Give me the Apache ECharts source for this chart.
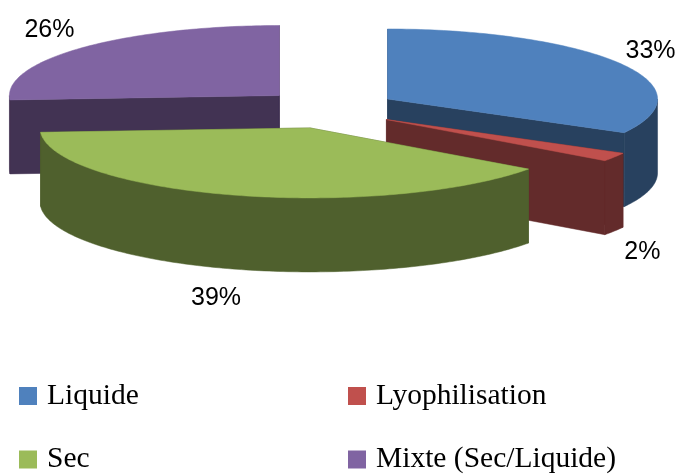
<!DOCTYPE html>
<html>
<head>
<meta charset="utf-8">
<style>html,body{margin:0;padding:0;background:#fff}#c{width:684px;height:475px}</style>
<script src="https://cdn.jsdelivr.net/npm/echarts@6/dist/echarts.min.js"></script>
</head>
<body>
<div id="c"></div>
<script>
// Data
const categories = ['Liquide', 'Lyophilisation', 'Sec', 'Mixte (Sec/Liquide)'];
const values = [33, 2, 39, 26];
const labels = ['33%', '2%', '39%', '26%'];

// Style
const topColors = ['#4F81BD', '#C0504D', '#9BBB59', '#8064A2'];
const wallColors = ['#28415F', '#632B2B', '#4F602D', '#423353'];
const drawOrder = [1, 2, 3, 0]; // painter's order per slice

// Layout of the tilted, exploded pie
const cx = 329, cy = 109;
const rx = 270, ry = 70, depth = 74;
const explodeX = 68, explodeY = 19.7;
const labelOffsets = [[263, -48], [256, 133], [-94, 170], [-230, -65]];

const total = values.reduce((a, b) => a + b, 0);
const rad = d => d * Math.PI / 180;

function arcPoints(ax, ay, from, to) {
  const pts = [];
  const n = Math.max(2, Math.ceil(Math.abs(to - from)));
  for (let i = 0; i <= n; i++) {
    const t = rad(from + (to - from) * i / n);
    pts.push([ax + rx * Math.sin(t), ay - ry * Math.cos(t)]);
  }
  return pts;
}
const drop = pts => pts.map(p => [p[0], p[1] + depth]);

function renderSlice(idx) {
  return function (params, api) {
    const v = api.value(0);
    let before = 0;
    for (let i = 0; i < idx; i++) before += values[i];
    const a0 = before / total * 360;
    const a1 = a0 + v / total * 360;
    const mid = rad((a0 + a1) / 2);
    const ax = cx + explodeX * Math.sin(mid);
    const ay = cy - explodeY * Math.cos(mid);
    const apex = [ax, ay];
    const wall = wallColors[idx];
    const children = [];
    const poly = (points, fill) => children.push({
      type: 'polygon',
      shape: { points },
      style: { fill, stroke: fill, lineWidth: 0.5 }
    });
    // radial cut faces
    [a0, a1].forEach(a => {
      const t = rad(a);
      const e = [ax + rx * Math.sin(t), ay - ry * Math.cos(t)];
      poly([apex, e, [e[0], e[1] + depth], [ax, ay + depth]], wall);
    });
    // outer wall: only the part that faces the viewer
    const f0 = Math.max(a0, 90), f1 = Math.min(a1, 270);
    if (f1 > f0) {
      const arc = arcPoints(ax, ay, f0, f1);
      poly(arc.concat(drop(arc).reverse()), wall);
    }
    // top face
    poly([apex].concat(arcPoints(ax, ay, a0, a1)), topColors[idx]);
    // percent label
    children.push({
      type: 'text',
      style: {
        x: ax + labelOffsets[idx][0],
        y: ay + labelOffsets[idx][1],
        text: labels[idx],
        fill: '#000',
        font: '25px "Liberation Sans"',
        align: 'center',
        verticalAlign: 'middle'
      }
    });
    return { type: 'group', children };
  };
}

const legendText = {
  fontFamily: 'Liberation Serif',
  fontSize: 29.5,
  color: '#000',
  padding: [4, 0, 0, 5]
};
const legendBase = {
  orient: 'vertical',
  icon: 'rect',
  itemWidth: 18,
  itemHeight: 18,
  itemGap: 33.5,
  padding: 0,
  selectedMode: false,
  textStyle: legendText
};

const chart = echarts.init(document.getElementById('c'), null, { renderer: 'canvas' });
chart.setOption({
  backgroundColor: '#fff',
  animation: false,
  tooltip: { show: false },
  legend: [
    Object.assign({}, legendBase, { left: 19, top: 381, data: [categories[0], categories[2]] }),
    Object.assign({}, legendBase, { left: 348, top: 381, data: [categories[1], categories[3]] })
  ],
  series: categories.map((name, i) => ({
    type: 'custom',
    name,
    coordinateSystem: 'none',
    silent: true,
    z: 2 + drawOrder[i],
    itemStyle: { color: topColors[i] },
    data: [[values[i]]],
    renderItem: renderSlice(i)
  }))
});
</script>
</body>
</html>
